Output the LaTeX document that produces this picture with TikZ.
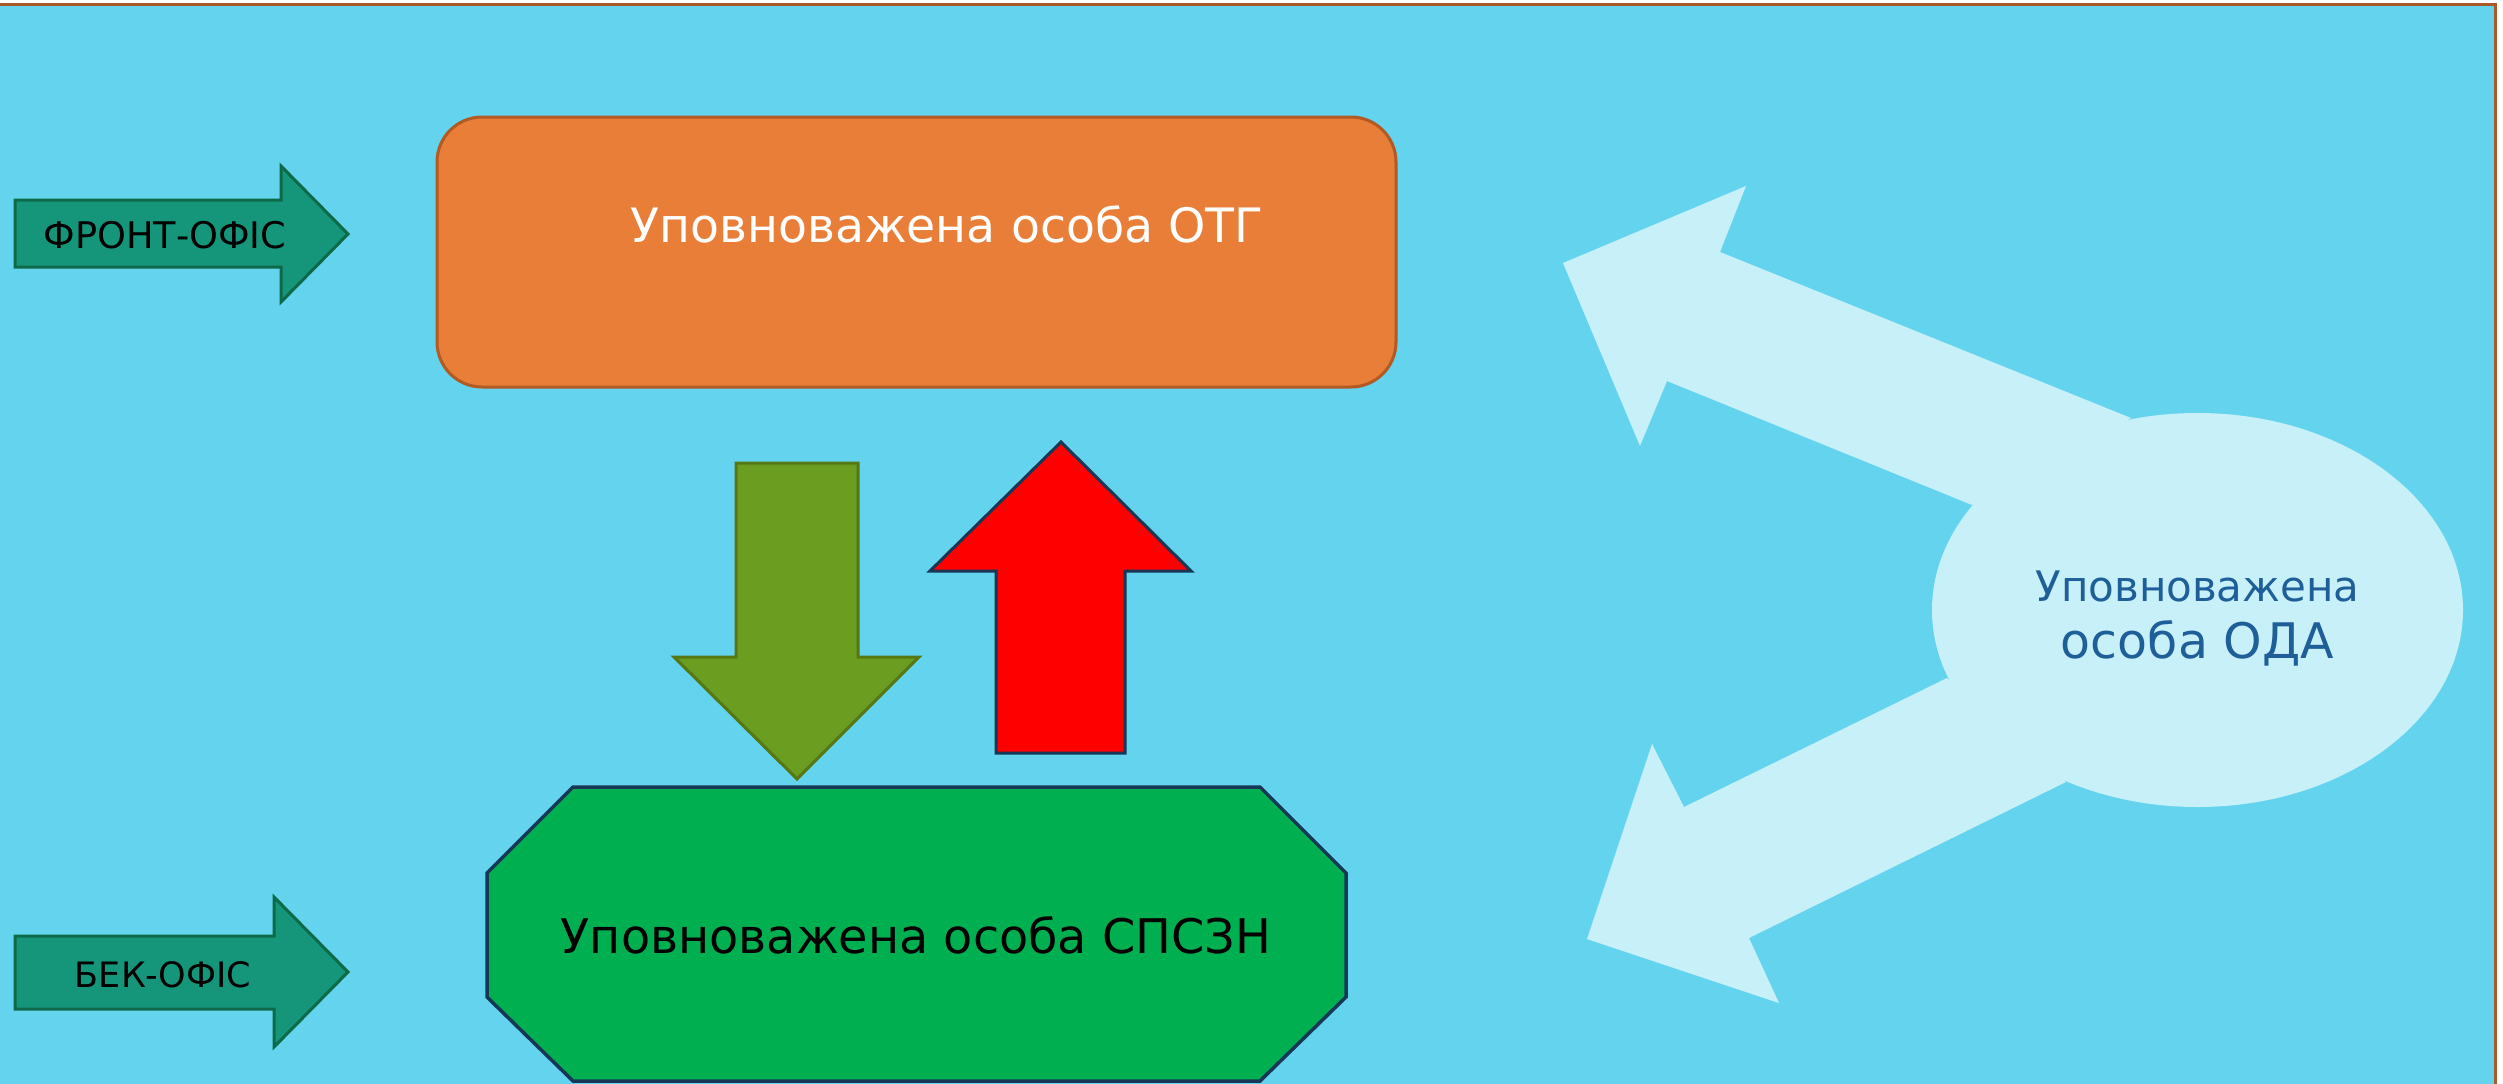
\documentclass[tikz,border=0pt]{standalone}
\usepackage{fontspec}
\setmainfont{DejaVu Sans}
\usetikzlibrary{shapes.geometric}
\definecolor{bgcyan}{RGB}{100,212,238}
\definecolor{paleblue}{RGB}{200,240,249}
\definecolor{framec}{RGB}{170,90,40}
\definecolor{otgfill}{RGB}{232,126,56}
\definecolor{otgline}{RGB}{177,90,35}
\definecolor{tealfill}{RGB}{21,150,122}
\definecolor{tealline}{RGB}{14,105,72}
\definecolor{olivefill}{RGB}{106,157,32}
\definecolor{oliveline}{RGB}{85,120,20}
\definecolor{spszfill}{RGB}{0,176,80}
\definecolor{navyc}{RGB}{22,55,85}
\definecolor{odatext}{RGB}{31,95,153}
\tikzset{
  lbl/.style={anchor=base, inner sep=0pt},
  tealarrow/.style={fill=tealfill, draw=tealline, line width=3pt},
  olivearrow/.style={fill=olivefill, draw=oliveline, line width=3pt},
  redarrow/.style={fill=red, draw=navyc, line width=3pt},
  octbox/.style={fill=spszfill, draw=navyc, line width=3.5pt},
  otgbox/.style={rectangle, rounded corners=45pt, fill=otgfill, draw=otgline, line width=3pt, minimum width=959pt, minimum height=270pt, inner sep=0pt},
  odashape/.style={ellipse, fill=paleblue, minimum width=531pt, minimum height=394pt, inner sep=0pt},
  palearrow/.style={fill=paleblue}
}
\begin{document}
\begin{tikzpicture}[x=1pt,y=-1pt, line join=miter]
\useasboundingbox (0,0) rectangle (2503,1084);
\fill[white] (0,0) rectangle (2503,1084);
\fill[bgcyan] (-5,4) rectangle (2495,1090);
\draw[framec, line width=3pt] (-5,4) -- (2495,4) -- (2495,1090);

% left block arrows
\draw[tealarrow] (15,200) -- (281,200) -- (281,166) -- (348,234) -- (281,302) -- (281,267) -- (15,267) -- cycle;
\node[lbl] (front) at (165,248) {\fontsize{36.7}{44}\selectfont ФРОНТ-ОФІС};
\draw[tealarrow] (15,936) -- (274,936) -- (274,897) -- (348,972) -- (274,1047) -- (274,1009) -- (15,1009) -- cycle;
\node[lbl] (back) at (163,987) {\fontsize{35}{42}\selectfont БЕК-ОФІС};

% OTG box
\node[otgbox] (otg) at (916.5,252) {};
\node[lbl, text=white] (otgtext) at (947,242) {\fontsize{47.4}{57}\selectfont Уповноважена особа ОТГ};

% middle arrows
\draw[olivearrow] (736,463) -- (858,463) -- (858,657) -- (919,657) -- (797,779) -- (674,657) -- (736,657) -- cycle;
\draw[redarrow] (1061,442) -- (1191,571) -- (1125,571) -- (1125,753) -- (996,753) -- (996,571) -- (930,571) -- cycle;

% SPSZN octagon
\draw[octbox] (573,787) -- (1260,787) -- (1346,873) -- (1346,997) -- (1260,1081) -- (573,1081) -- (487,997) -- (487,873) -- cycle;
\node[lbl] (spsz) at (916,953) {\fontsize{47.7}{57}\selectfont Уповноважена особа СПСЗН};

% ODA with pale arrows
\fill[palearrow] (2131,418) -- (1720,252) -- (1746,186) -- (1563,263) -- (1640,446) -- (1667,381) -- (1972,505) -- cycle;
\fill[palearrow] (1947,678) -- (1684,807) -- (1652,744) -- (1587,939) -- (1779,1003) -- (1749,938) -- (2066,782) -- cycle;
\node[odashape] (oda) at (2197.5,610) {};
\node[lbl, text=odatext] (oda1) at (2197.5,601) {\fontsize{42}{50}\selectfont Уповноважена};
\node[lbl, text=odatext] (oda2) at (2197.5,658) {\fontsize{49}{58}\selectfont особа ОДА};
\end{tikzpicture}
\end{document}
